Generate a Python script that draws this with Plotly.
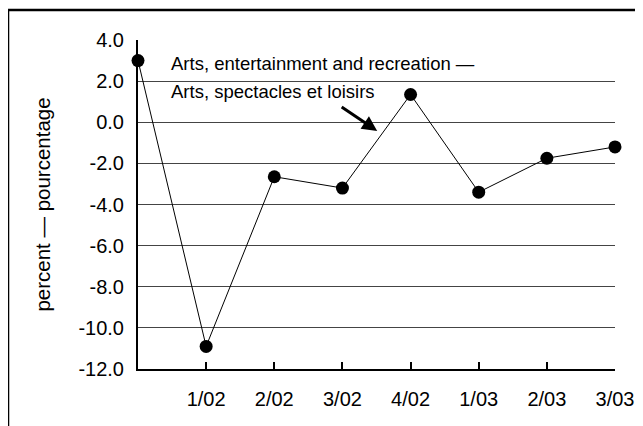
import plotly.graph_objects as go

# quarters; the first point has no label on the axis
quarters = ["", "1/02", "2/02", "3/02", "4/02", "1/03", "2/03", "3/03"]
pct_change = [3.0, -10.9, -2.65, -3.2, 1.35, -3.4, -1.75, -1.2]

y_ticks = [-12, -10, -8, -6, -4, -2, 0, 2, 4]
y_tick_text = ["-12.0", "-10.0", "-8.0", "-6.0", "-4.0", "-2.0", "0.0", "2.0", "4.0"]

font = "Liberation Sans, Arial, sans-serif"
xpos = list(range(len(quarters)))

fig = go.Figure()
fig.add_trace(
    go.Scatter(
        x=xpos,
        y=pct_change,
        mode="lines+markers",
        line=dict(color="black", width=1),
        marker=dict(color="black", size=13),
        cliponaxis=False,
        showlegend=False,
    )
)

fig.update_xaxes(
    range=[0, 7],
    tickvals=xpos[1:],
    ticktext=quarters[1:],
    ticks="inside",
    ticklen=7,
    tickwidth=1.5,
    tickcolor="black",
    showline=True,
    linecolor="black",
    linewidth=2,
    showgrid=False,
    zeroline=False,
    ticklabelstandoff=11,
    tickfont=dict(family=font, size=20, color="black"),
)
fig.update_yaxes(
    range=[-12, 4],
    tickvals=y_ticks,
    ticktext=y_tick_text,
    showline=True,
    linecolor="black",
    linewidth=2,
    showgrid=True,
    gridcolor="#444444",
    gridwidth=1,
    zeroline=False,
    ticklabelstandoff=8,
    tickfont=dict(family=font, size=20, color="black"),
    title=dict(
        text="percent \u2014 pourcentage",
        font=dict(family=font, size=20.5, color="black"),
        standoff=22,
    ),
)

fig.add_annotation(
    x=0.45, y=2.84, xref="x", yref="y",
    text="Arts, entertainment and recreation \u2014",
    showarrow=False, xanchor="left", yanchor="middle",
    font=dict(family=font, size=18.5, color="black"),
)
fig.add_annotation(
    x=0.45, y=1.48, xref="x", yref="y",
    text="Arts, spectacles et loisirs",
    showarrow=False, xanchor="left", yanchor="middle",
    font=dict(family=font, size=18.5, color="black"),
)
fig.add_annotation(
    x=3.51, y=-0.42, xref="x", yref="y",
    ax=-37, ay=-25, text="",
    showarrow=True, arrowhead=2, arrowsize=1, arrowwidth=3,
    arrowcolor="black",
)

# outer frame (top and left edges visible)
fig.add_shape(type="line", xref="paper", yref="paper",
              x0=-0.2725, x1=1.2, y0=1.091, y1=1.091,
              line=dict(color="black", width=2.5))
fig.add_shape(type="line", xref="paper", yref="paper",
              x0=-0.2725, x1=-0.2725, y0=1.091, y1=-0.3,
              line=dict(color="black", width=2.5))

# the page adds an 8px body margin, so shift margins to compensate
fig.update_layout(
    width=643,
    height=426,
    margin=dict(l=130, r=36, t=32, b=65),
    paper_bgcolor="white",
    plot_bgcolor="white",
    font=dict(family=font, color="black"),
)

fig.write_html("out.html")
